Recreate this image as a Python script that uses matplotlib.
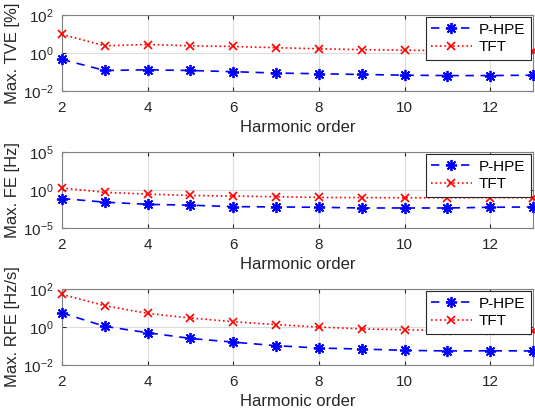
import numpy as np
import matplotlib.pyplot as plt
from matplotlib.ticker import FixedLocator, LogFormatterMathtext, NullLocator

plt.rcParams['font.family'] = ['Liberation Sans', 'DejaVu Sans']
plt.rcParams['mathtext.fontset'] = 'custom'
plt.rcParams['mathtext.rm'] = 'Liberation Sans'

harmonic = np.arange(2, 14)

# max TVE [%]
tve_phpe = [0.46, 0.12, 0.13, 0.12, 0.104, 0.088, 0.081, 0.074, 0.068, 0.065, 0.065, 0.068]
tve_tft = [9.5, 2.4, 2.8, 2.4, 2.2, 1.9, 1.67, 1.5, 1.4, 1.35, 1.3, 1.24]

# max FE [Hz]
fe_phpe = [0.076, 0.025, 0.013, 0.010, 0.0065, 0.0059, 0.0053, 0.0043, 0.0043, 0.0043, 0.0053, 0.0059]
fe_tft = [1.85, 0.49, 0.29, 0.19, 0.16, 0.13, 0.105, 0.10, 0.094, 0.094, 0.10, 0.094]

# max RFE [Hz/s]
rfe_phpe = [5.5, 1.08, 0.5, 0.25, 0.16, 0.104, 0.078, 0.069, 0.059, 0.055, 0.056, 0.055]
rfe_tft = [52, 13.2, 5.2, 2.97, 1.9, 1.33, 1.0, 0.79, 0.72, 0.64, 0.64, 0.59]

panels = [
    ("Max. TVE [%]", tve_phpe, tve_tft, (1e-2, 1e2), [1e-2, 1e0, 1e2]),
    ("Max. FE [Hz]", fe_phpe, fe_tft, (1e-5, 1e5), [1e-5, 1e0, 1e5]),
    ("Max. RFE [Hz/s]", rfe_phpe, rfe_tft, (1e-2, 1e2), [1e-2, 1e0, 1e2]),
]

W, H = 535, 415
fig = plt.figure(figsize=(W / 100, H / 100), dpi=100)
tops = [15, 152, 289]
ax_h = 76
left, right = 62, 533

txt = '#262626'
asterisk = (8, 2, 0)  # MATLAB-style '*'
for (ylabel, phpe, tft, ylim, yticks), top in zip(panels, tops):
    ax = fig.add_axes([left / W, 1 - (top + ax_h) / H, (right - left) / W, ax_h / H])
    ax.plot(harmonic, phpe, linestyle=(0, (5, 4)), color='blue', marker=asterisk,
            markersize=8, markeredgewidth=1.3, linewidth=1.2, label='P-HPE',
            clip_on=False, zorder=3)
    ax.plot(harmonic, tft, linestyle=':', color='red', marker='x',
            markersize=6, markeredgewidth=1.2, linewidth=1.2, label='TFT',
            clip_on=False, zorder=3)
    ax.set_yscale('log')
    ax.set_ylim(*ylim)
    ax.set_xlim(2, 13)
    ax.yaxis.set_major_locator(FixedLocator(yticks))
    ax.yaxis.set_major_formatter(LogFormatterMathtext())
    ax.yaxis.set_minor_locator(NullLocator())
    ax.set_xticks(range(2, 14, 2))
    ax.grid(True, color='#dcdcdc', linewidth=0.8)
    ax.set_axisbelow(True)
    ax.tick_params(direction='in', length=3, labelsize=11, colors=txt,
                   top=True, right=True, labelcolor=txt)
    ax.tick_params(axis='x', pad=7)
    ax.tick_params(axis='y', pad=6)
    for s in ax.spines.values():
        s.set_color('#808080')
        s.set_linewidth(0.8)
    ax.set_ylabel(ylabel, fontsize=12, color=txt, labelpad=2)
    ax.set_xlabel("Harmonic order", fontsize=12, color=txt, labelpad=4)
    leg = ax.legend(loc='upper right', fontsize=11, fancybox=False,
                    edgecolor=txt, framealpha=1, borderaxespad=0.15,
                    handlelength=2.7, handletextpad=0.45, borderpad=0.35,
                    labelspacing=0.25)
    leg.get_frame().set_linewidth(0.8)

fig.savefig('out.png', dpi=100)
